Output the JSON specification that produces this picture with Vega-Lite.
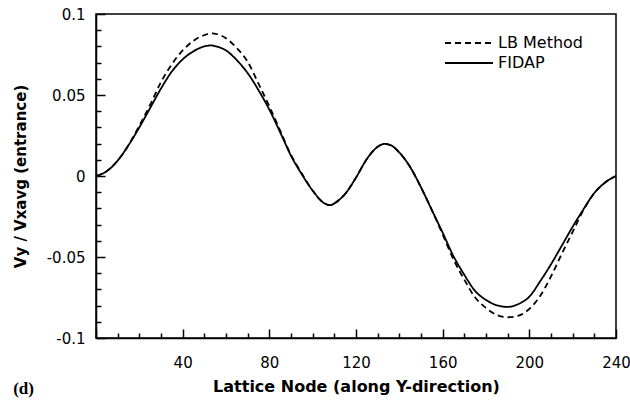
{
  "$schema": "https://vega.github.io/schema/vega-lite/v6.json",
  "width": 520,
  "height": 324,
  "autosize": {"type": "none"},
  "padding": {"left": 96, "top": 14, "right": 14, "bottom": 66},
  "background": "white",
  "config": {
    "view": {"stroke": "black", "strokeWidth": 1.5},
    "font": "DejaVu Sans"
  },
  "title": {
    "text": "(d)",
    "orient": "bottom",
    "anchor": "start",
    "frame": "bounds",
    "font": "Liberation Serif",
    "fontSize": 17,
    "fontWeight": "bold",
    "color": "black",
    "offset": -13
  },
  "datasets": {
    "curves": [
      {"node": 0, "series": "FIDAP", "v": 0},
      {"node": 5, "series": "FIDAP", "v": 0.003},
      {"node": 10, "series": "FIDAP", "v": 0.0095},
      {"node": 15, "series": "FIDAP", "v": 0.019},
      {"node": 20, "series": "FIDAP", "v": 0.030},
      {"node": 25, "series": "FIDAP", "v": 0.042},
      {"node": 30, "series": "FIDAP", "v": 0.054},
      {"node": 35, "series": "FIDAP", "v": 0.0645},
      {"node": 40, "series": "FIDAP", "v": 0.072},
      {"node": 45, "series": "FIDAP", "v": 0.077},
      {"node": 50, "series": "FIDAP", "v": 0.080},
      {"node": 53, "series": "FIDAP", "v": 0.0806},
      {"node": 56, "series": "FIDAP", "v": 0.0798},
      {"node": 60, "series": "FIDAP", "v": 0.0775},
      {"node": 65, "series": "FIDAP", "v": 0.0715},
      {"node": 70, "series": "FIDAP", "v": 0.0635},
      {"node": 75, "series": "FIDAP", "v": 0.053},
      {"node": 80, "series": "FIDAP", "v": 0.041},
      {"node": 85, "series": "FIDAP", "v": 0.027},
      {"node": 90, "series": "FIDAP", "v": 0.0125},
      {"node": 95, "series": "FIDAP", "v": 0.001},
      {"node": 100, "series": "FIDAP", "v": -0.009},
      {"node": 105, "series": "FIDAP", "v": -0.0165},
      {"node": 108, "series": "FIDAP", "v": -0.018},
      {"node": 111, "series": "FIDAP", "v": -0.016},
      {"node": 115, "series": "FIDAP", "v": -0.011},
      {"node": 120, "series": "FIDAP", "v": -0.001},
      {"node": 125, "series": "FIDAP", "v": 0.0105},
      {"node": 130, "series": "FIDAP", "v": 0.018},
      {"node": 133, "series": "FIDAP", "v": 0.0198},
      {"node": 136, "series": "FIDAP", "v": 0.019},
      {"node": 140, "series": "FIDAP", "v": 0.0145},
      {"node": 145, "series": "FIDAP", "v": 0.0055},
      {"node": 150, "series": "FIDAP", "v": -0.007},
      {"node": 155, "series": "FIDAP", "v": -0.021},
      {"node": 160, "series": "FIDAP", "v": -0.035},
      {"node": 165, "series": "FIDAP", "v": -0.0495},
      {"node": 170, "series": "FIDAP", "v": -0.061},
      {"node": 175, "series": "FIDAP", "v": -0.071},
      {"node": 180, "series": "FIDAP", "v": -0.0765},
      {"node": 185, "series": "FIDAP", "v": -0.0798},
      {"node": 190, "series": "FIDAP", "v": -0.0808},
      {"node": 195, "series": "FIDAP", "v": -0.079},
      {"node": 200, "series": "FIDAP", "v": -0.0745},
      {"node": 205, "series": "FIDAP", "v": -0.065},
      {"node": 210, "series": "FIDAP", "v": -0.0545},
      {"node": 215, "series": "FIDAP", "v": -0.043},
      {"node": 220, "series": "FIDAP", "v": -0.0313},
      {"node": 225, "series": "FIDAP", "v": -0.0205},
      {"node": 230, "series": "FIDAP", "v": -0.0105},
      {"node": 235, "series": "FIDAP", "v": -0.004},
      {"node": 240, "series": "FIDAP", "v": 0},
      {"node": 0, "series": "LB Method", "v": 0},
      {"node": 5, "series": "LB Method", "v": 0.003},
      {"node": 10, "series": "LB Method", "v": 0.0095},
      {"node": 15, "series": "LB Method", "v": 0.019},
      {"node": 20, "series": "LB Method", "v": 0.031},
      {"node": 25, "series": "LB Method", "v": 0.044},
      {"node": 30, "series": "LB Method", "v": 0.058},
      {"node": 35, "series": "LB Method", "v": 0.069},
      {"node": 40, "series": "LB Method", "v": 0.0775},
      {"node": 45, "series": "LB Method", "v": 0.0835},
      {"node": 50, "series": "LB Method", "v": 0.087},
      {"node": 53, "series": "LB Method", "v": 0.088},
      {"node": 56, "series": "LB Method", "v": 0.0875},
      {"node": 60, "series": "LB Method", "v": 0.085},
      {"node": 65, "series": "LB Method", "v": 0.079},
      {"node": 70, "series": "LB Method", "v": 0.0705},
      {"node": 75, "series": "LB Method", "v": 0.057},
      {"node": 80, "series": "LB Method", "v": 0.043},
      {"node": 85, "series": "LB Method", "v": 0.028},
      {"node": 90, "series": "LB Method", "v": 0.013},
      {"node": 95, "series": "LB Method", "v": 0.0015},
      {"node": 100, "series": "LB Method", "v": -0.009},
      {"node": 105, "series": "LB Method", "v": -0.0165},
      {"node": 108, "series": "LB Method", "v": -0.018},
      {"node": 111, "series": "LB Method", "v": -0.016},
      {"node": 115, "series": "LB Method", "v": -0.011},
      {"node": 120, "series": "LB Method", "v": -0.001},
      {"node": 125, "series": "LB Method", "v": 0.0105},
      {"node": 130, "series": "LB Method", "v": 0.018},
      {"node": 133, "series": "LB Method", "v": 0.0198},
      {"node": 136, "series": "LB Method", "v": 0.019},
      {"node": 140, "series": "LB Method", "v": 0.0145},
      {"node": 145, "series": "LB Method", "v": 0.0055},
      {"node": 150, "series": "LB Method", "v": -0.007},
      {"node": 155, "series": "LB Method", "v": -0.021},
      {"node": 160, "series": "LB Method", "v": -0.036},
      {"node": 165, "series": "LB Method", "v": -0.0515},
      {"node": 170, "series": "LB Method", "v": -0.064},
      {"node": 175, "series": "LB Method", "v": -0.075},
      {"node": 180, "series": "LB Method", "v": -0.0815},
      {"node": 185, "series": "LB Method", "v": -0.0858},
      {"node": 190, "series": "LB Method", "v": -0.0872},
      {"node": 195, "series": "LB Method", "v": -0.0862},
      {"node": 200, "series": "LB Method", "v": -0.082},
      {"node": 205, "series": "LB Method", "v": -0.074},
      {"node": 210, "series": "LB Method", "v": -0.062},
      {"node": 215, "series": "LB Method", "v": -0.048},
      {"node": 220, "series": "LB Method", "v": -0.0345},
      {"node": 225, "series": "LB Method", "v": -0.021},
      {"node": 230, "series": "LB Method", "v": -0.0105},
      {"node": 235, "series": "LB Method", "v": -0.004},
      {"node": 240, "series": "LB Method", "v": 0}
    ]
  },
  "data": {"name": "curves"},
  "mark": {"type": "line", "color": "black", "strokeWidth": 1.8, "interpolate": "monotone"},
  "encoding": {
    "x": {
      "field": "node",
      "type": "quantitative",
      "scale": {"domain": [0, 240], "nice": false, "zero": false},
      "axis": {
        "title": "Lattice Node (along Y-direction)",
        "titleFont": "DejaVu Sans",
        "titleFontSize": 16,
        "titleFontWeight": "bold",
        "titleColor": "black",
        "titlePadding": 4,
        "values": [0, 10, 20, 30, 40, 50, 60, 70, 80, 90, 100, 110, 120, 130, 140, 150, 160, 170, 180, 190, 200, 210, 220, 230, 240],
        "labelExpr": "datum.value % 40 === 0 && datum.value > 0 ? datum.label : ''",
        "labelFont": "DejaVu Sans",
        "labelFontSize": 15,
        "labelColor": "black",
        "labelPadding": 26,
        "labelFlush": false,
        "labelOverlap": false,
        "tickSize": {"condition": {"test": "datum.value % 40 === 0", "value": -9}, "value": -5},
        "tickColor": "black",
        "tickWidth": 1.5,
        "domainColor": "black",
        "domainWidth": 1.5,
        "grid": false
      }
    },
    "y": {
      "field": "v",
      "type": "quantitative",
      "scale": {"domain": [-0.1, 0.1], "nice": false},
      "axis": {
        "title": "Vy / Vxavg (entrance)",
        "titleFont": "DejaVu Sans",
        "titleFontSize": 15,
        "titleFontWeight": "bold",
        "titleColor": "black",
        "titlePadding": 18,
        "values": [-0.1, -0.09, -0.08, -0.07, -0.06, -0.05, -0.04, -0.03, -0.02, -0.01, 0, 0.01, 0.02, 0.03, 0.04, 0.05, 0.06, 0.07, 0.08, 0.09, 0.1],
        "labelExpr": "indexof([-0.1, -0.05, 0, 0.05, 0.1], datum.value) >= 0 ? replace(format(datum.value, ''), '−', '-') : ''",
        "labelFont": "DejaVu Sans",
        "labelFontSize": 15,
        "labelColor": "black",
        "labelPadding": 20,
        "labelFlush": false,
        "labelOverlap": false,
        "tickSize": {"condition": {"test": "indexof([-0.1, -0.05, 0, 0.05, 0.1], datum.value) >= 0", "value": -9}, "value": -5},
        "tickColor": "black",
        "tickWidth": 1.5,
        "domainColor": "black",
        "domainWidth": 1.5,
        "grid": false
      }
    },
    "strokeDash": {
      "field": "series",
      "type": "nominal",
      "scale": {"domain": ["LB Method", "FIDAP"], "range": [[6, 4], [1, 0]]},
      "legend": {
        "title": null,
        "orient": "none",
        "legendX": 365,
        "legendY": 21,
        "symbolType": "M-4,0H4",
        "symbolSize": 144,
        "symbolStrokeWidth": 1.8,
        "symbolStrokeColor": "black",
        "labelFont": "DejaVu Sans",
        "labelFontSize": 16,
        "labelColor": "black",
        "labelOffset": 21,
        "rowPadding": 4,
        "padding": 0
      }
    }
  }
}
